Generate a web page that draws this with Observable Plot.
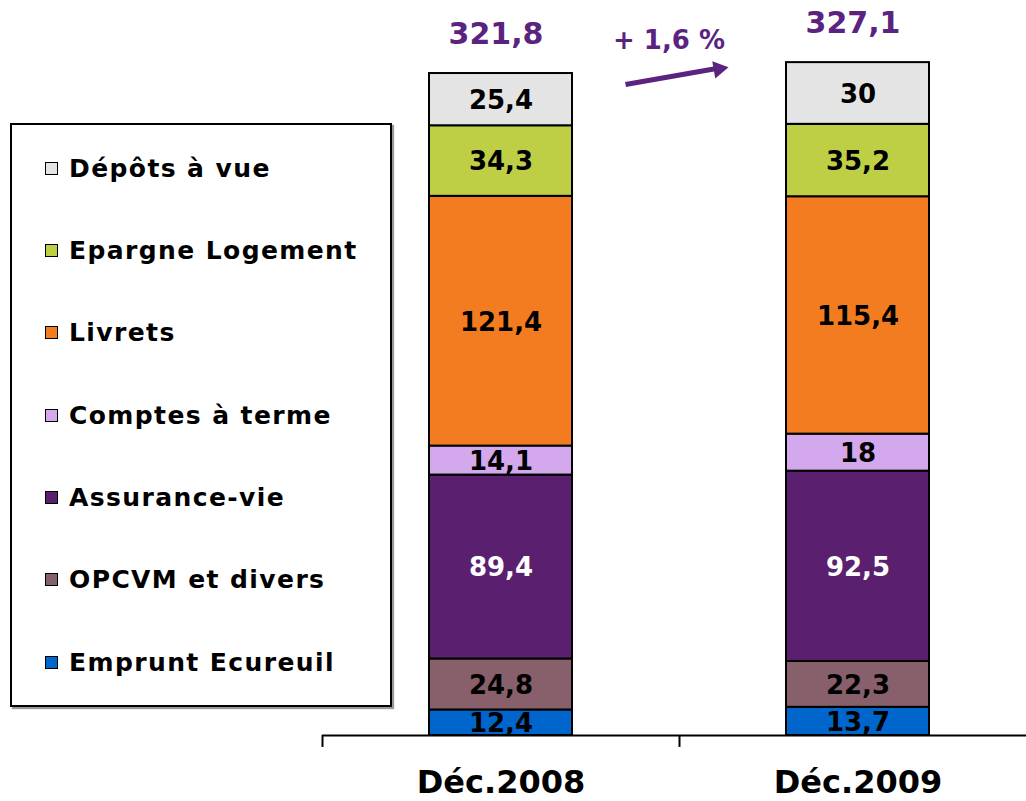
<!DOCTYPE html>
<html>
<head>
<meta charset="utf-8">
<script src="https://cdn.jsdelivr.net/npm/d3@7"></script>
<script src="https://cdn.jsdelivr.net/npm/@observablehq/plot@0.6"></script>
<style>
  html, body { margin: 0; padding: 0; background: #fff; }
  #wrap { position: relative; width: 1026px; height: 801px; font-family: "DejaVu Sans", Verdana, sans-serif; }
  #legend {
    position: absolute; left: 10px; top: 123px; width: 378px; height: 578px;
    border: 2px solid #000; background: #fff; box-shadow: 2px 2px 1px #999;
    padding-top: 2px; box-sizing: content-box;
  }
  .item { height: 82.33px; display: flex; align-items: center; padding-left: 33px;
          font-weight: bold; font-size: 25px; letter-spacing: 1.4px; color: #000; }
  .sw { width: 11px; height: 11px; border: 1.5px solid #000; margin-right: 11px; flex: none; }
</style>
</head>
<body>
<div id="wrap"></div>
<script>
// ---- data ----
const periods = ["Déc.2008", "Déc.2009"];
const series = ["Emprunt Ecureuil", "OPCVM et divers", "Assurance-vie", "Comptes à terme", "Livrets", "Epargne Logement", "Dépôts à vue"];
const values2008 = [12.4, 24.8, 89.4, 14.1, 121.4, 34.3, 25.4];
const values2009 = [13.7, 22.3, 92.5, 18, 115.4, 35.2, 30];
const totals = [321.8, 327.1];
const growthLabel = "+ 1,6 %";
const colors = ["#0066cc", "#87606b", "#5a1f6e", "#d4a8ec", "#f47c20", "#bfcf45", "#e3e4e3"];

const fmt = v => String(v).replace(".", ",");
const table = [];
[values2008, values2009].forEach((vals, i) => {
  vals.forEach((v, j) => table.push({period: periods[i], series: series[j], value: v}));
});
const totalRows = periods.map((p, i) => ({period: p, total: totals[i]}));
const growth = [{from: periods[0], to: periods[1], label: growthLabel}];

const purple = "#5b2380";
const font = "DejaVu Sans, Verdana, sans-serif";

const chart = Plot.plot({
  width: 1026,
  height: 801,
  marginLeft: 322,
  marginRight: -10,
  marginTop: 0,
  marginBottom: 66,
  style: {fontFamily: font, background: "transparent", overflow: "visible"},
  x: {domain: periods, paddingInner: 0.6, paddingOuter: 0.3, axis: null},
  y: {domain: [0, 357.3], axis: null},
  color: {domain: series, range: colors},
  marks: [
    Plot.barY(table, {x: "period", y: "value", fill: "series", order: series, stroke: "#000", strokeWidth: 2}),
    Plot.text(table, Plot.stackY({
      x: "period", y: "value", z: "series", order: series,
      text: d => d.series === "Assurance-vie" ? "" : fmt(d.value),
      fill: "#000", fontSize: 26, fontWeight: "bold", letterSpacing: 1.4, dy: 1
    })),
    Plot.text(table, Plot.stackY({
      x: "period", y: "value", z: "series", order: series,
      text: d => d.series === "Assurance-vie" ? fmt(d.value) : "",
      fill: "#fff", fontSize: 26, fontWeight: "bold", letterSpacing: 1.4, dy: 1
    })),
    Plot.text(totalRows, {x: "period", y: "total", text: d => fmt(d.total), fill: purple,
      fontSize: 30, fontWeight: "bold", letterSpacing: 1, dy: -39, dx: -5}),
    // growth arrow: shaft + filled head
    Plot.arrow(growth, {x1: "from", x2: "to", y1: () => 305.9, y2: () => 336.2,
      insetStart: 126.4, insetEnd: 142, stroke: purple, strokeWidth: 5, headLength: 0, strokeLinecap: "butt"}),
    Plot.dot(growth, {x: "to", y: () => 324.0, dx: -139.3, symbol: "triangle2", r: 8.3,
      rotate: 80, fill: purple, stroke: "none"}),
    Plot.text(growth, {x: "from", y: () => 337.8, text: "label", dx: 168, fill: purple,
      fontSize: 26, fontWeight: "bold", letterSpacing: 1.8}),
    Plot.ruleY([0], {stroke: "#000", strokeWidth: 2}),
    Plot.ruleX(periods, {x: d => d, y1: 0, y2: -5.8, dx: -178.5, stroke: "#000", strokeWidth: 2}),
    Plot.text(periods, {x: d => d, y: 0, dy: 47, text: d => d, fill: "#000",
      fontSize: 32, fontWeight: "bold", letterSpacing: 1.5})
  ]
});

const wrap = document.getElementById("wrap");
wrap.appendChild(chart);

// legend (top to bottom = stack top to bottom)
const legend = document.createElement("div");
legend.id = "legend";
series.slice().reverse().forEach(s => {
  const item = document.createElement("div");
  item.className = "item";
  const sw = document.createElement("span");
  sw.className = "sw";
  sw.style.background = colors[series.indexOf(s)];
  item.appendChild(sw);
  item.appendChild(document.createTextNode(s));
  legend.appendChild(item);
});
wrap.appendChild(legend);
</script>
</body>
</html>
